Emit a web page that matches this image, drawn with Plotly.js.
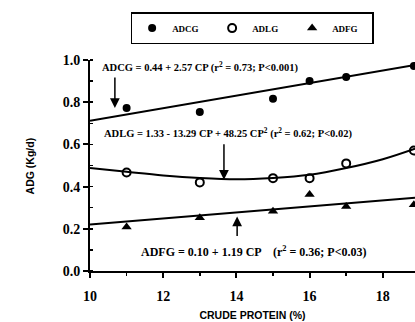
<!DOCTYPE html>
<html><head><meta charset="utf-8">
<script src="https://cdn.plot.ly/plotly-3.0.1.min.js"></script>
<style>html,body{margin:0;padding:0;background:#fff}#c{width:415px;height:322px}</style>
</head><body><div id="c"></div>
<script>
// Crude protein levels (%)
const cp = [11, 13, 15, 16, 17, 18.85];
// Observed gains (kg/d)
const adcg = [0.772, 0.753, 0.816, 0.90, 0.92, 0.972];
const adlg = [0.467, 0.42, 0.44, 0.44, 0.51, 0.571];
const adfg = [0.209, 0.252, 0.283, 0.362, 0.306, 0.314];
// Fitted curves
const fitCpLin = [10, 18.88];
const adcgFit = [0.712, 0.976];
const adfgFit = [0.22, 0.347];
const fitCpQuad = [10, 11, 12, 13, 14, 15, 16, 17, 18, 18.88];
const adlgFit = [0.488, 0.47, 0.453, 0.441, 0.435, 0.441, 0.456, 0.488, 0.53, 0.58];
const seriesNames = ['ADCG', 'ADLG', 'ADFG'];
const xTitle = 'CRUDE PROTEIN (%)';
const yTitle = 'ADG (Kg/d)';
const eqCG = 'ADCG = 0.44 + 2.57 CP (r<sup>2</sup> = 0.73; P&lt;0.001)';
const eqLG = 'ADLG = 1.33 - 13.29 CP + 48.25 CP<sup>2</sup> (r<sup>2</sup> = 0.62; P&lt;0.02)';
const eqFG = 'ADFG = 0.10 + 1.19 CP &nbsp;&nbsp; (r<sup>2</sup> = 0.36; P&lt;0.03)';

const lineStyle = {color: '#000', width: 2};
const traces = [
  {x: fitCpLin, y: adcgFit, mode: 'lines', line: lineStyle, showlegend: false, hoverinfo: 'skip'},
  {x: fitCpQuad, y: adlgFit, mode: 'lines', line: Object.assign({shape: 'spline'}, lineStyle), showlegend: false, hoverinfo: 'skip'},
  {x: fitCpLin, y: adfgFit, mode: 'lines', line: lineStyle, showlegend: false, hoverinfo: 'skip'},
  {x: cp, y: adcg, mode: 'markers', name: seriesNames[0], cliponaxis: false,
   marker: {symbol: 'circle', size: 8, color: '#000'}},
  {x: cp, y: adlg, mode: 'markers', name: seriesNames[1], cliponaxis: false,
   marker: {symbol: 'circle-open', size: 8, color: '#000', line: {width: 2, color: '#000'}}},
  {x: cp, y: adfg, mode: 'markers', name: seriesNames[2], cliponaxis: false,
   marker: {symbol: 'triangle-up', size: 9, color: '#000'}}
];

const annFont = {family: 'Liberation Serif, serif', size: 10.5, color: '#000', weight: 'bold'};
const layout = {
  width: 415, height: 322,
  margin: {l: 90, r: 0, t: 60, b: 51},
  paper_bgcolor: '#fff', plot_bgcolor: '#fff',
  showlegend: true,
  legend: {orientation: 'h', x: 0.125, xanchor: 'left', y: 1.227, yanchor: 'top',
    bordercolor: '#000', borderwidth: 1.5, entrywidth: 35, entrywidthmode: 'pixels',
    font: {family: 'Liberation Serif, serif', size: 9, color: '#000', weight: 'bold'},
    itemwidth: 30, tracegroupgap: 0},
  xaxis: {range: [10, 18.88], dtick: 2, tick0: 10, showgrid: false, zeroline: false,
    showline: true, linecolor: '#000', linewidth: 2, ticks: 'outside', ticklen: 5, tickwidth: 2,
    tickcolor: '#000', ticklabelstandoff: 6,
    minor: {dtick: 1, ticks: 'outside', ticklen: 3, tickwidth: 1.5, tickcolor: '#000', showgrid: false},
    tickfont: {family: 'Liberation Serif, serif', size: 14, color: '#000', weight: 'bold'},
    title: {text: xTitle, standoff: 9, font: {family: 'Liberation Sans, sans-serif', size: 10.5, color: '#000', weight: 'bold'}}},
  yaxis: {range: [0, 1.0], dtick: 0.2, tickformat: '.1f', showgrid: false, zeroline: false,
    showline: true, linecolor: '#000', linewidth: 2, ticks: 'outside', ticklen: 5, tickwidth: 2,
    tickcolor: '#000',
    minor: {dtick: 0.1, ticks: 'inside', ticklen: 3, tickwidth: 1.5, tickcolor: '#000', showgrid: false},
    tickfont: {family: 'Liberation Serif, serif', size: 14, color: '#000', weight: 'bold'}},
  annotations: [
    {x: -0.185, y: 0.5, xref: 'paper', yref: 'paper', text: yTitle, showarrow: false, textangle: -90,
     xanchor: 'center', yanchor: 'middle',
     font: {family: 'Liberation Sans, sans-serif', size: 10.5, color: '#000', weight: 'bold'}},
    {x: 10.27, y: 0.967, xref: 'x', yref: 'y', text: eqCG, showarrow: false, xanchor: 'left', yanchor: 'middle', font: annFont},
    {x: 10.33, y: 0.655, xref: 'x', yref: 'y', text: eqLG, showarrow: false, xanchor: 'left', yanchor: 'middle', font: annFont},
    {x: 11.34, y: 0.092, xref: 'x', yref: 'y', text: eqFG, showarrow: false, xanchor: 'left', yanchor: 'middle',
     font: Object.assign({}, annFont, {size: 12})},
    {x: 10.68, y: 0.773, xref: 'x', yref: 'y', text: '', showarrow: true, ax: 0, ay: -32,
     arrowhead: 2, arrowsize: 1.3, arrowwidth: 1.5, arrowcolor: '#000'},
    {x: 13.66, y: 0.433, xref: 'x', yref: 'y', text: '', showarrow: true, ax: 0, ay: -37,
     arrowhead: 2, arrowsize: 1.3, arrowwidth: 1.5, arrowcolor: '#000'},
    {x: 14.02, y: 0.258, xref: 'x', yref: 'y', text: '', showarrow: true, ax: 0, ay: 21,
     arrowhead: 2, arrowsize: 1.3, arrowwidth: 1.5, arrowcolor: '#000'}
  ]
};
Plotly.newPlot('c', traces, layout, {displayModeBar: false, staticPlot: true});
</script></body></html>
